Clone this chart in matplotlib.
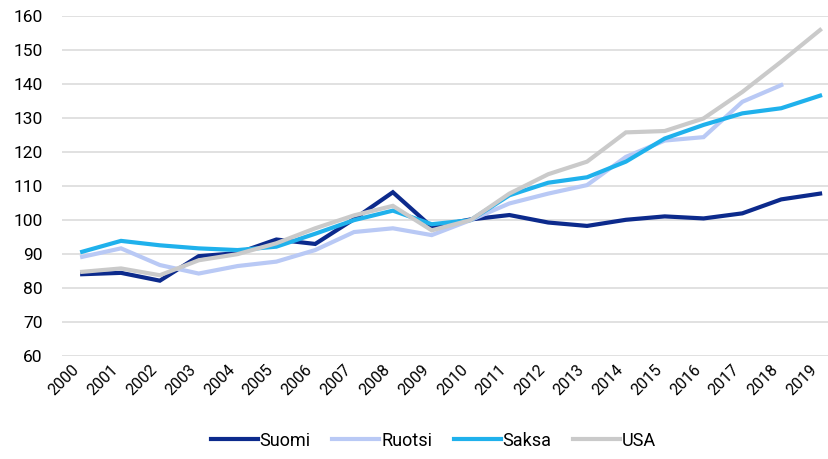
import numpy as np
import matplotlib
matplotlib.use("Agg")
import matplotlib.pyplot as plt

plt.rcParams['font.family'] = ['Roboto', 'DejaVu Sans']

# Data (index, 2010 = 100)
years = list(range(2000, 2020))
suomi = [84.1, 84.5, 82.2, 89.4, 90.3, 94.3, 93.0, 100.3, 108.2, 98.0, 100.2,
         101.5, 99.3, 98.3, 100.1, 101.1, 100.5, 102.0, 106.1, 107.8]
ruotsi = [89.2, 91.7, 86.8, 84.3, 86.5, 87.8, 91.2, 96.5, 97.6, 95.6, 100.0,
          104.9, 107.8, 110.3, 118.6, 123.4, 124.4, 134.8, 139.7]
saksa = [90.7, 93.9, 92.6, 91.7, 91.2, 92.2, 96.0, 100.0, 102.8, 98.8, 100.0,
         107.3, 111.0, 112.6, 117.2, 124.0, 128.0, 131.4, 132.9, 136.6]
usa = [84.8, 85.8, 83.8, 88.2, 90.0, 93.2, 97.6, 101.4, 104.2, 97.0, 100.0,
       107.8, 113.5, 117.2, 125.8, 126.2, 129.9, 137.7, 146.6, 155.9]

names = ['Suomi', 'Ruotsi', 'Saksa', 'USA']
colors = ['#0c2a8c', '#b9c9f5', '#1fb1ec', '#cacaca']
series = [suomi, ruotsi, saksa, usa]

fig = plt.figure(figsize=(8.29, 4.59), dpi=100)
ax = fig.add_axes([0.075, 0.224, 0.925, 0.741])

for name, col, vals in zip(names, colors, series):
    ax.plot(years[:len(vals)], vals, color=col, lw=3, label=name,
            solid_joinstyle='miter')

ax.set_ylim(60, 160)
ax.set_yticks(range(60, 161, 10))
ax.set_xlim(1999.485, 2019.23)
ax.set_xticks(years)
ax.set_xticklabels([str(y) for y in years], rotation=45, ha='right',
                   va='top', fontsize=11.5)
ax.tick_params(axis='y', length=0, pad=14, labelsize=12.5)
ax.tick_params(axis='x', length=0, pad=4)
ax.grid(axis='y', color='#dcdcdc', lw=1.2)
ax.set_axisbelow(True)
for s in ax.spines.values():
    s.set_visible(False)

fig.legend(loc='lower center', bbox_to_anchor=(0.523, -0.015), ncol=4,
           frameon=False, fontsize=13, handlelength=2.6, handletextpad=0.1,
           columnspacing=1.2)

fig.savefig('out.png', dpi=100)
